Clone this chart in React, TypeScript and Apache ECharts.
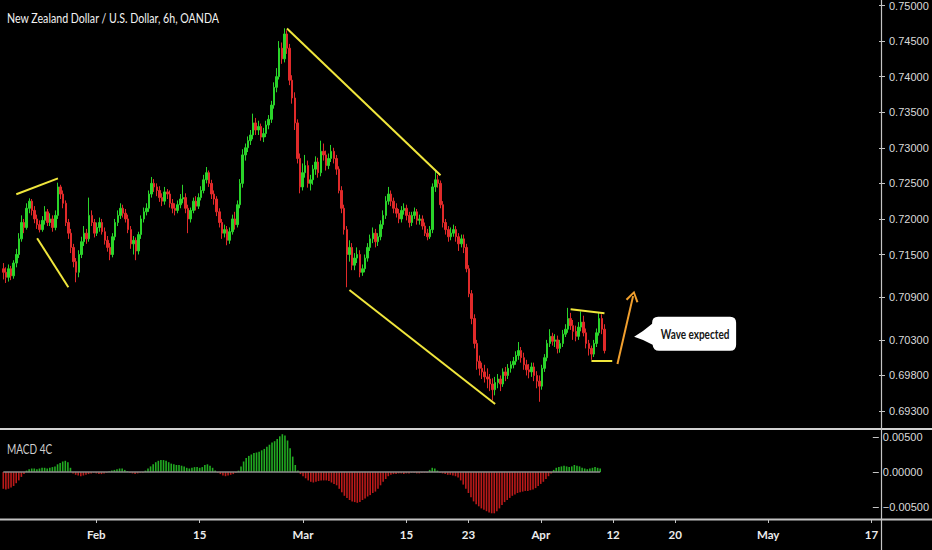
import React, { useEffect, useRef } from "react";
import * as echarts from "echarts";

// ---------- DATA ----------
const TITLE = "New Zealand Dollar / U.S. Dollar, 6h, OANDA";
const MACD_TITLE = "MACD 4C";
const CALLOUT = "Wave expected";

const FIRST_OPEN = 0.713;
const closes = [
  0.7125, 0.7118, 0.7130, 0.7120, 0.7138, 0.7150, 0.7172, 0.7195, 0.7188, 0.7215,
  0.7225, 0.7212, 0.7200, 0.7192, 0.7185, 0.7198, 0.7210, 0.7195, 0.7200, 0.7188,
  0.7205, 0.7245, 0.7235, 0.7222, 0.7195, 0.7180, 0.7160, 0.7140, 0.7125, 0.7150,
  0.7168, 0.7180, 0.7172, 0.7205, 0.7195, 0.7180, 0.7188, 0.7195, 0.7182, 0.7170,
  0.7160, 0.7150, 0.7175, 0.7195, 0.7205, 0.7215, 0.7208, 0.7200, 0.7185, 0.7165,
  0.7170, 0.7155, 0.7178, 0.7200, 0.7210, 0.7215, 0.7235, 0.7250, 0.7245, 0.7240,
  0.7230, 0.7225, 0.7238, 0.7235, 0.7222, 0.7215, 0.7212, 0.7220, 0.7228, 0.7230,
  0.7215, 0.7200, 0.7212, 0.7225, 0.7218, 0.7230, 0.7240, 0.7255, 0.7265, 0.7250,
  0.7235, 0.7228, 0.7210, 0.7195, 0.7180, 0.7185, 0.7170, 0.7182, 0.7200, 0.7192,
  0.7220, 0.7250, 0.7290, 0.7300, 0.7310, 0.7318, 0.7335, 0.7325, 0.7330, 0.7315,
  0.7320, 0.7332, 0.7340, 0.7360, 0.7385, 0.7400, 0.7440, 0.7425, 0.7460, 0.7440,
  0.7395, 0.7370, 0.7335, 0.7285, 0.7245, 0.7265, 0.7275, 0.7250, 0.7255, 0.7270,
  0.7280, 0.7265, 0.7295, 0.7290, 0.7275, 0.7285, 0.7295, 0.7285, 0.7270, 0.7240,
  0.7215, 0.7185, 0.7150, 0.7160, 0.7135, 0.7145, 0.7150, 0.7125, 0.7130, 0.7145,
  0.7160, 0.7172, 0.7180, 0.7168, 0.7175, 0.7192, 0.7205, 0.7225, 0.7235, 0.7225,
  0.7215, 0.7208, 0.7200, 0.7212, 0.7215, 0.7205, 0.7195, 0.7205, 0.7210, 0.7198,
  0.7200, 0.7190, 0.7180, 0.7175, 0.7185, 0.7245, 0.7255, 0.7250, 0.7220, 0.7195,
  0.7185, 0.7175, 0.7180, 0.7185, 0.7175, 0.7165, 0.7172, 0.7160, 0.7130, 0.7095,
  0.7060, 0.7025, 0.7000, 0.6990, 0.6985, 0.6978, 0.6975, 0.6968, 0.6960, 0.6970,
  0.6975, 0.6968, 0.6985, 0.6980, 0.6990, 0.6995, 0.7000, 0.7008, 0.7015, 0.7005,
  0.6995, 0.6988, 0.6985, 0.6992, 0.6980, 0.6972, 0.6965, 0.6990, 0.7005, 0.7025,
  0.7035, 0.7028, 0.7030, 0.7018, 0.7025, 0.7038, 0.7045, 0.7060, 0.7050, 0.7042,
  0.7035, 0.7048, 0.7055, 0.7040, 0.7025, 0.7018, 0.7010, 0.7025, 0.7040, 0.7060,
  0.7045, 0.7015,
];
const highs = [
  0.7138, 0.7132, 0.7136, 0.7134, 0.7142, 0.7158, 0.7180, 0.7205, 0.7200, 0.7222,
  0.7229, 0.7228, 0.7218, 0.7206, 0.7198, 0.7204, 0.7218, 0.7214, 0.7208, 0.7205,
  0.7212, 0.7251, 0.7248, 0.7240, 0.7226, 0.7200, 0.7186, 0.7165, 0.7145, 0.7156,
  0.7175, 0.7190, 0.7186, 0.7230, 0.7212, 0.7200, 0.7195, 0.7202, 0.7200, 0.7188,
  0.7176, 0.7166, 0.7180, 0.7200, 0.7212, 0.7222, 0.7220, 0.7214, 0.7206, 0.7190,
  0.7176, 0.7174, 0.7182, 0.7205, 0.7216, 0.7222, 0.7240, 0.7259, 0.7256, 0.7250,
  0.7246, 0.7236, 0.7245, 0.7242, 0.7240, 0.7228, 0.7222, 0.7226, 0.7235, 0.7248,
  0.7236, 0.7220, 0.7216, 0.7230, 0.7232, 0.7236, 0.7246, 0.7262, 0.7273, 0.7268,
  0.7255, 0.7240, 0.7232, 0.7215, 0.7200, 0.7192, 0.7190, 0.7188, 0.7206, 0.7210,
  0.7226, 0.7256, 0.7298, 0.7306, 0.7316, 0.7325, 0.7348, 0.7342, 0.7338, 0.7334,
  0.7328, 0.7338, 0.7346, 0.7366, 0.7392, 0.7412, 0.7450, 0.7448, 0.7468, 0.7465,
  0.7446, 0.7402, 0.7378, 0.7340, 0.7292, 0.7278, 0.7290, 0.7282, 0.7262, 0.7276,
  0.7288, 0.7286, 0.7310, 0.7306, 0.7296, 0.7292, 0.7304, 0.7300, 0.7290, 0.7274,
  0.7246, 0.7220, 0.7190, 0.7170, 0.7166, 0.7152, 0.7160, 0.7156, 0.7136, 0.7150,
  0.7166, 0.7178, 0.7188, 0.7186, 0.7180, 0.7198, 0.7212, 0.7232, 0.7245, 0.7240,
  0.7230, 0.7222, 0.7214, 0.7218, 0.7222, 0.7220, 0.7210, 0.7210, 0.7216, 0.7214,
  0.7206, 0.7205, 0.7195, 0.7186, 0.7190, 0.7250, 0.7268, 0.7262, 0.7254, 0.7225,
  0.7200, 0.7190, 0.7188, 0.7192, 0.7190, 0.7180, 0.7178, 0.7178, 0.7165, 0.7135,
  0.7100, 0.7066, 0.7030, 0.7008, 0.6998, 0.6995, 0.6990, 0.6982, 0.6976, 0.6978,
  0.6982, 0.6980, 0.6990, 0.6992, 0.6996, 0.7000, 0.7006, 0.7014, 0.7027, 0.7020,
  0.7012, 0.7002, 0.6996, 0.6998, 0.6998, 0.6986, 0.6980, 0.6995, 0.7010, 0.7030,
  0.7045, 0.7040, 0.7038, 0.7036, 0.7030, 0.7044, 0.7052, 0.7075, 0.7068, 0.7058,
  0.7050, 0.7055, 0.7070, 0.7064, 0.7046, 0.7030, 0.7022, 0.7030, 0.7046, 0.7068,
  0.7066, 0.7052,
];
const lows = [
  0.7115, 0.7110, 0.7112, 0.7114, 0.7116, 0.7132, 0.7145, 0.7168, 0.7180, 0.7185,
  0.7208, 0.7205, 0.7194, 0.7186, 0.7181, 0.7182, 0.7192, 0.7190, 0.7190, 0.7182,
  0.7184, 0.7200, 0.7228, 0.7215, 0.7190, 0.7172, 0.7152, 0.7132, 0.7111, 0.7118,
  0.7145, 0.7162, 0.7165, 0.7168, 0.7190, 0.7174, 0.7176, 0.7182, 0.7178, 0.7164,
  0.7154, 0.7142, 0.7146, 0.7170, 0.7190, 0.7200, 0.7202, 0.7195, 0.7180, 0.7158,
  0.7150, 0.7142, 0.7150, 0.7172, 0.7195, 0.7205, 0.7210, 0.7230, 0.7238, 0.7232,
  0.7224, 0.7218, 0.7220, 0.7228, 0.7216, 0.7208, 0.7205, 0.7208, 0.7215, 0.7222,
  0.7208, 0.7180, 0.7195, 0.7208, 0.7212, 0.7214, 0.7226, 0.7236, 0.7250, 0.7245,
  0.7228, 0.7220, 0.7204, 0.7188, 0.7172, 0.7174, 0.7163, 0.7165, 0.7178, 0.7185,
  0.7188, 0.7215, 0.7244, 0.7282, 0.7294, 0.7304, 0.7312, 0.7318, 0.7318, 0.7310,
  0.7308, 0.7315, 0.7326, 0.7335, 0.7355, 0.7378, 0.7396, 0.7418, 0.7420, 0.7432,
  0.7388, 0.7362, 0.7325, 0.7278, 0.7236, 0.7240, 0.7258, 0.7244, 0.7240, 0.7248,
  0.7262, 0.7258, 0.7260, 0.7282, 0.7268, 0.7270, 0.7280, 0.7278, 0.7262, 0.7236,
  0.7208, 0.7178, 0.7104, 0.7140, 0.7128, 0.7128, 0.7138, 0.7118, 0.7120, 0.7125,
  0.7140, 0.7155, 0.7166, 0.7160, 0.7162, 0.7170, 0.7186, 0.7200, 0.7220, 0.7218,
  0.7208, 0.7202, 0.7194, 0.7195, 0.7206, 0.7198, 0.7188, 0.7190, 0.7200, 0.7192,
  0.7192, 0.7185, 0.7176, 0.7170, 0.7172, 0.7180, 0.7238, 0.7244, 0.7215, 0.7188,
  0.7178, 0.7168, 0.7170, 0.7175, 0.7168, 0.7155, 0.7160, 0.7152, 0.7125, 0.7090,
  0.7052, 0.7018, 0.6988, 0.6980, 0.6975, 0.6970, 0.6962, 0.6958, 0.6945, 0.6952,
  0.6962, 0.6958, 0.6964, 0.6972, 0.6975, 0.6984, 0.6990, 0.6995, 0.7002, 0.6998,
  0.6988, 0.6980, 0.6976, 0.6978, 0.6972, 0.6962, 0.6943, 0.6960, 0.6985, 0.7000,
  0.7020, 0.7022, 0.7020, 0.7011, 0.7012, 0.7020, 0.7034, 0.7040, 0.7044, 0.7030,
  0.7028, 0.7030, 0.7042, 0.7035, 0.7018, 0.7008, 0.7002, 0.7006, 0.7020, 0.7036,
  0.7038, 0.7011,
];
const macdHist = [
  -0.0024, -0.0025, -0.0024, -0.0022, -0.0020, -0.0016, -0.0012, -0.0007, -0.0003, 0.0002,
  0.0004, 0.0005, 0.0005, 0.0004, 0.0005, 0.0006, 0.0006, 0.0005, 0.0006, 0.0007,
  0.0008, 0.0011, 0.0013, 0.0015, 0.0016, 0.0014, 0.0006, -0.0002, -0.0004, -0.0005,
  -0.0006, -0.0005, -0.0004, -0.0003, -0.0002, -0.0001, -0.0002, -0.0003, -0.0003, -0.0002,
  -0.0001, 0.0001, 0.0002, 0.0003, 0.0004, 0.0005, 0.0005, 0.0003, 0.0001, -0.0001,
  -0.0002, -0.0003, -0.0002, -0.0001, -0.0001, 0.0002, 0.0005, 0.0008, 0.0011, 0.0014,
  0.0016, 0.0017, 0.0017, 0.0016, 0.0014, 0.0012, 0.0011, 0.0010, 0.0010, 0.0009,
  0.0008, 0.0006, 0.0005, 0.0006, 0.0007, 0.0007, 0.0006, 0.0007, 0.0010, 0.0011,
  0.0009, 0.0006, 0.0002, -0.0001, -0.0003, -0.0005, -0.0006, -0.0005, -0.0004, -0.0003,
  -0.0001, 0.0002, 0.0008, 0.0015, 0.0020, 0.0023, 0.0025, 0.0027, 0.0028, 0.0029,
  0.0031, 0.0033, 0.0036, 0.0039, 0.0042, 0.0044, 0.0047, 0.0051, 0.0054, 0.0052,
  0.0045, 0.0034, 0.0022, 0.0010, 0.0002, -0.0003, -0.0006, -0.0009, -0.0012, -0.0014,
  -0.0015, -0.0014, -0.0013, -0.0012, -0.0012, -0.0012, -0.0013, -0.0015, -0.0017, -0.0019,
  -0.0024, -0.0029, -0.0034, -0.0037, -0.0040, -0.0042, -0.0043, -0.0044, -0.0043, -0.0040,
  -0.0038, -0.0035, -0.0033, -0.0030, -0.0028, -0.0024, -0.0019, -0.0014, -0.0010, -0.0006,
  -0.0004, -0.0003, -0.0003, -0.0002, -0.0002, -0.0003, -0.0002, -0.0002, -0.0001, -0.0001,
  -0.0002, -0.0002, -0.0001, -0.0001, -0.0001, 0.0003, 0.0006, 0.0005, 0.0002, -0.0001,
  -0.0002, -0.0003, -0.0004, -0.0004, -0.0005, -0.0006, -0.0008, -0.0012, -0.0018, -0.0024,
  -0.0030, -0.0036, -0.0042, -0.0046, -0.0049, -0.0052, -0.0054, -0.0056, -0.0058, -0.0059,
  -0.0059, -0.0056, -0.0052, -0.0047, -0.0043, -0.0040, -0.0037, -0.0034, -0.0032, -0.0030,
  -0.0029, -0.0028, -0.0027, -0.0027, -0.0026, -0.0025, -0.0023, -0.0020, -0.0017, -0.0014,
  -0.0010, -0.0006, -0.0002, 0.0003, 0.0006, 0.0007, 0.0008, 0.0009, 0.0008, 0.0007,
  0.0008, 0.0010, 0.0009, 0.0008, 0.0006, 0.0005, 0.0004, 0.0005, 0.0006, 0.0007,
  0.0006, 0.0005,
];

const priceTicks = [0.75, 0.745, 0.74, 0.735, 0.73, 0.725, 0.72, 0.715, 0.709, 0.703, 0.698, 0.693];
const macdTicks = [0.005, 0, -0.005];
const xTickDates = [
  "2021-02-01 00", "2021-02-15 00", "2021-03-01 00", "2021-03-15 00", "2021-03-23 00",
  "2021-04-01 00", "2021-04-12 00", "2021-04-20 00", "2021-05-03 00", "2021-05-17 00",
];
const xTickLabels = ["Feb", "15", "Mar", "15", "23", "Apr", "12", "20", "May", "17"];

// drawings: [barIndex, price] pairs
const yellowLines = [
  [[4.9, 0.72347], [20.6, 0.72571]],
  [[12.9, 0.71729], [25.2, 0.71041]],
  [[108.6, 0.74677], [168.1, 0.72613]],
  [[133.2, 0.71], [188.5, 0.69398]],
  [[218.1, 0.70732], [230.8, 0.70676]],
  [[225.8, 0.70002], [233.8, 0.70002]],
];
const orangeArrow = [[235.8, 0.6996], [241.5, 0.70915]];
const calloutAt = [262, 0.70385];

// 6h bars, weekdays only, starting 2021-01-19
const BAR_COUNT = 337;
function buildCategories(): string[] {
  const out: string[] = [];
  let t = Date.UTC(2021, 0, 19);
  const pad = (n: number) => (n < 10 ? "0" + n : "" + n);
  while (out.length < BAR_COUNT) {
    const d = new Date(t);
    const wd = d.getUTCDay();
    if (wd !== 0 && wd !== 6) {
      out.push(
        `${d.getUTCFullYear()}-${pad(d.getUTCMonth() + 1)}-${pad(d.getUTCDate())} ${pad(d.getUTCHours())}`
      );
    }
    t += 6 * 3600 * 1000;
  }
  return out;
}
const categories = buildCategories();

// ---------- STYLE ----------
const SANS = '"Liberation Sans", Arial, sans-serif';
const HUMAN = 'Lato, "Liberation Sans", sans-serif';
const UP = "#2ad42a";
const DOWN = "#e02a2a";
const HIST_UP = "#22ac22";
const HIST_DOWN = "#bb1a1a";
const YELLOW = "#f0e63c";
const ORANGE = "#f2a02e";
const AXIS = "#c4c4c4";

const fmt = (v: number) => {
  if (Math.abs(v) < 1e-12) return "0.00000";
  return v < 0 ? "\u2212" + Math.abs(v).toFixed(5) : v.toFixed(5);
};

export default function App() {
  const ref = useRef<HTMLDivElement>(null);

  useEffect(() => {
    if (!ref.current) return;
    const chart = echarts.init(ref.current, undefined, { renderer: "svg" });

    const candles = closes.map((c, i) => [i === 0 ? FIRST_OPEN : closes[i - 1], c, lows[i], highs[i]]);
    const tickSet = new Set(xTickDates);
    const isTick = (_i: number, v: string) => tickSet.has(v);

    const lineData: any[] = yellowLines.map(([a, b]) => [
      { coord: a, symbol: "none", lineStyle: { color: YELLOW, width: 2, type: "solid" } },
      { coord: b, symbol: "none" },
    ]);
    lineData.push([
      { coord: orangeArrow[0], symbol: "none", lineStyle: { color: ORANGE, width: 2, type: "solid" } },
      {
        coord: orangeArrow[1],
        symbol: "path://M5,0 L10,9 L8.6,10 L5,3 L1.4,10 L0,9 Z",
        symbolSize: [13, 11],
      },
    ]);

    const staticGraphics: any[] = [
      { type: "line", shape: { x1: 0, y1: 429, x2: 932, y2: 429 }, style: { stroke: "#d2d2d2", lineWidth: 2 }, silent: true },
      { type: "line", shape: { x1: 0, y1: 519.5, x2: 932, y2: 519.5 }, style: { stroke: "#c2c2c2", lineWidth: 2 }, silent: true },
      { type: "line", shape: { x1: 881.5, y1: 0, x2: 881.5, y2: 550 }, style: { stroke: AXIS, lineWidth: 1.2 }, silent: true },
      {
        type: "text",
        x: 7,
        y: 18,
        scaleX: 0.76,
        silent: true,
        style: {
          text: TITLE,
          fill: "#f2f2f2",
          fontSize: 14,
          fontFamily: HUMAN,
          fontWeight: "normal",
          textAlign: "left",
          textVerticalAlign: "middle",
        },
      },
      {
        type: "text",
        x: 7,
        y: 449,
        scaleX: 0.8,
        silent: true,
        style: {
          text: MACD_TITLE,
          fill: "#d0d0d0",
          fontSize: 12.5,
          fontFamily: HUMAN,
          textAlign: "left",
          textVerticalAlign: "middle",
        },
      },
    ];

    const option: any = {
      animation: false,
      backgroundColor: "#000000",
      grid: [
        { left: 2, right: 53, top: 0, height: 429 },
        { left: 2, right: 53, top: 430, height: 89 },
      ],
      xAxis: [
        {
          type: "category",
          gridIndex: 0,
          data: categories,
          boundaryGap: true,
          axisLine: { show: false, onZero: false },
          axisTick: { show: false },
          axisLabel: { show: false },
          splitLine: { show: false },
        },
        {
          type: "category",
          gridIndex: 1,
          data: categories,
          boundaryGap: true,
          axisLine: { show: false, onZero: false },
          axisTick: {
            show: true,
            alignWithLabel: true,
            length: 4,
            interval: isTick,
            lineStyle: { color: AXIS, width: 1 },
          },
          axisLabel: {
            show: true,
            interval: isTick,
            formatter: (v: string) => xTickLabels[xTickDates.indexOf(v)] ?? "",
            color: "#ececec",
            fontSize: 11.5,
            fontWeight: "bold",
            fontFamily: HUMAN,
            margin: 9,
            hideOverlap: false,
          },
          splitLine: { show: false },
        },
      ],
      yAxis: [
        {
          type: "value",
          gridIndex: 0,
          position: "right",
          min: 0.690475,
          max: 0.750702,
          scale: true,
          splitLine: { show: false },
          axisLine: { show: false },
          axisTick: { show: true, length: 6, customValues: priceTicks, lineStyle: { color: AXIS } },
          axisLabel: {
            customValues: priceTicks,
            formatter: fmt,
            color: "#dadada",
            fontSize: 11,
            fontFamily: SANS,
            margin: 10,
          },
        },
        {
          type: "value",
          gridIndex: 1,
          position: "right",
          min: -0.006714,
          max: 0.006,
          splitLine: { show: false },
          axisLine: { show: false },
          axisTick: { show: true, length: 6, customValues: macdTicks, lineStyle: { color: AXIS } },
          axisLabel: {
            customValues: macdTicks,
            formatter: fmt,
            color: "#dadada",
            fontSize: 11,
            fontFamily: SANS,
            margin: 10,
          },
        },
      ],
      graphic: { elements: staticGraphics },
      series: [
        {
          type: "candlestick",
          xAxisIndex: 0,
          yAxisIndex: 0,
          data: candles,
          barWidth: 2,
          itemStyle: {
            color: UP,
            color0: DOWN,
            borderColor: UP,
            borderColor0: DOWN,
            borderWidth: 1,
          },
          markLine: {
            silent: true,
            symbol: ["none", "none"],
            label: { show: false },
            emphasis: { disabled: true },
            data: lineData,
          },
          markPoint: {
            silent: true,
            data: [{ coord: calloutAt, value: CALLOUT }],
            symbol:
              "path://M0,20 Q10,14 18,7 L18,6 Q18,0 24,0 L96,0 Q102,0 102,6 L102,28 Q102,34 96,34 L25,34 Q19,34 18.5,28 Q10,23 0,20 Z",
            symbolSize: [102, 34],
            itemStyle: { color: "#ffffff" },
            label: { show: false },
          },
        },
        {
          type: "bar",
          xAxisIndex: 1,
          yAxisIndex: 1,
          data: macdHist,
          barWidth: 1.6,
          itemStyle: {
            color: (p: any) => (p.value >= 0 ? HIST_UP : HIST_DOWN),
          },
          markLine: {
            silent: true,
            symbol: ["none", "none"],
            label: { show: false },
            emphasis: { disabled: true },
            lineStyle: { color: "#8c8c8c", width: 1.5, type: "solid" },
            data: [[{ coord: [0, 0] }, { coord: [macdHist.length - 1, 0] }]],
          },
        },
      ],
    };

    chart.setOption(option);

    // callout text, anchored to the same data point as the callout box
    const p = chart.convertToPixel({ xAxisIndex: 0, yAxisIndex: 0 }, calloutAt as any) as number[];
    chart.setOption({
      graphic: {
        elements: [
          ...staticGraphics,
          {
            type: "text",
            x: p[0] + 10,
            y: p[1],
            scaleX: 0.8,
            silent: true,
            z: 100,
            style: {
              text: CALLOUT,
              fill: "#151515",
              fontSize: 12.5,
              fontWeight: "bold",
              fontFamily: HUMAN,
              textAlign: "center",
              textVerticalAlign: "middle",
            },
          },
        ],
      },
    });

    return () => chart.dispose();
  }, []);

  return (
    <div
      ref={ref}
      style={{ position: "fixed", left: 0, top: 0, width: 932, height: 550, background: "#000" }}
    />
  );
}
